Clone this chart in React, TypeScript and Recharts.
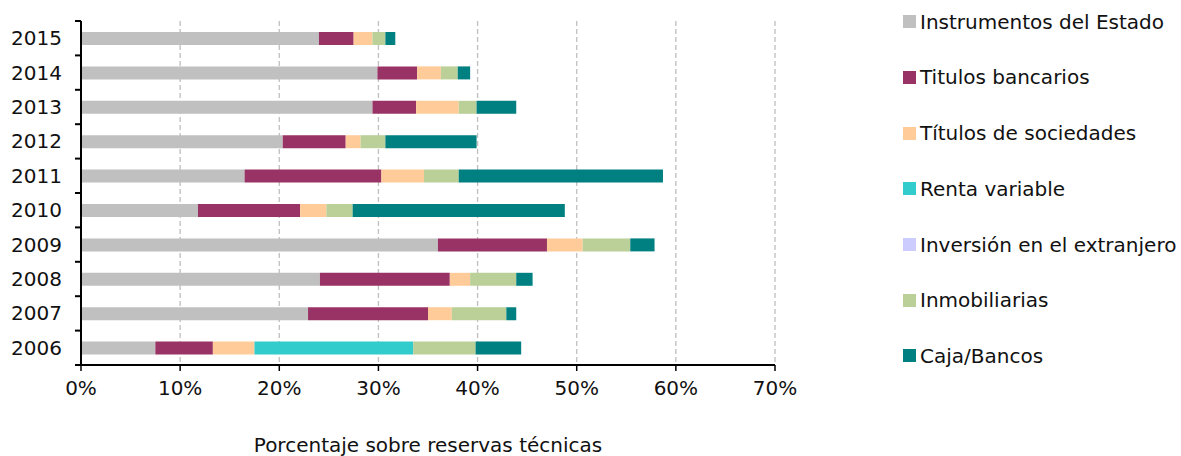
import React from 'react';
import { BarChart, Bar, XAxis, YAxis, CartesianGrid } from 'recharts';

const years = ['2006', '2007', '2008', '2009', '2010', '2011', '2012', '2013', '2014', '2015'];
const instrumentosEstado = [7.5, 22.9, 24.1, 36.0, 11.8, 16.5, 20.35, 29.4, 29.9, 24.0];
const titulosBancarios = [5.8, 12.1, 13.1, 11.0, 10.3, 13.8, 6.35, 4.4, 4.0, 3.5];
const titulosSociedades = [4.2, 2.4, 2.05, 3.6, 2.65, 4.3, 1.5, 4.3, 2.4, 1.9];
const rentaVariable = [16.0, 0, 0, 0, 0, 0, 0, 0, 0, 0];
const inversionExtranjero = [0, 0, 0, 0, 0, 0, 0, 0, 0, 0];
const inmobiliarias = [6.3, 5.5, 4.65, 4.8, 2.65, 3.5, 2.5, 1.8, 1.7, 1.3];
const cajaBancos = [4.6, 1.0, 1.65, 2.45, 21.4, 20.6, 9.2, 4.0, 1.25, 1.0];
const xTicks = [0, 10, 20, 30, 40, 50, 60, 70];

const seriesNames = [
  'Instrumentos del Estado',
  'Titulos bancarios',
  'Títulos de sociedades',
  'Renta variable',
  'Inversión en el extranjero',
  'Inmobiliarias',
  'Caja/Bancos',
];
const seriesValues = [
  instrumentosEstado,
  titulosBancarios,
  titulosSociedades,
  rentaVariable,
  inversionExtranjero,
  inmobiliarias,
  cajaBancos,
];
const seriesColors = ['#C0C0C0', '#993366', '#FFCC99', '#33CCCC', '#CCCCFF', '#BBCF99', '#008080'];

const data = years.map((year, i) => {
  const row: Record<string, string | number> = { year };
  seriesValues.forEach((vals, s) => {
    row['s' + s] = vals[i];
  });
  return row;
});

const FONT = '"DejaVu Sans", Verdana, sans-serif';
const TOP = 21;
const BOTTOM = 365;
const BAND = (BOTTOM - TOP) / years.length;
const TICK_SIZE = 6;
const TICK_MARGIN = 13;

const YTick = (props: any) => {
  const { x, y, payload, index } = props;
  const axisX = x + TICK_MARGIN + TICK_SIZE;
  return (
    <g>
      <line x1={axisX - TICK_SIZE} x2={axisX} y1={y - BAND / 2} y2={y - BAND / 2} stroke="#000" strokeWidth={2} />
      {index === 0 ? (
        <line x1={axisX - TICK_SIZE} x2={axisX} y1={y + BAND / 2} y2={y + BAND / 2} stroke="#000" strokeWidth={2} />
      ) : null}
      <text x={x} y={y} dy="0.35em" textAnchor="end" fill="#111" fontSize={20} fontFamily={FONT}>
        {payload.value}
      </text>
    </g>
  );
};

export default function App() {
  return (
    <div style={{ position: 'absolute', left: 0, top: 0, width: 1181, height: 456, background: '#fff' }}>
      <BarChart
        width={1181}
        height={456}
        data={data}
        layout="vertical"
        barSize={13}
        margin={{ top: TOP, right: 1181 - 775, bottom: 0, left: 0 }}
      >
        <CartesianGrid horizontal={false} vertical={true} stroke="#BFBFBF" strokeDasharray="5 3" strokeWidth={1.3} />
        <XAxis
          type="number"
          domain={[0, 70]}
          ticks={xTicks}
          tickFormatter={(v: number) => v + '%'}
          height={456 - BOTTOM}
          tickSize={6}
          tickMargin={10}
          axisLine={{ stroke: '#000', strokeWidth: 2 }}
          tickLine={{ stroke: '#000', strokeWidth: 1.5 }}
          tick={{ fill: '#111', fontSize: 20, fontFamily: FONT }}
          interval={0}
          label={{
            value: 'Porcentaje sobre reservas técnicas',
            position: 'insideBottom',
            offset: 4,
            fill: '#111',
            fontSize: 20,
            fontFamily: FONT,
          }}
        />
        <YAxis
          type="category"
          dataKey="year"
          reversed
          width={81}
          tickSize={TICK_SIZE}
          tickMargin={TICK_MARGIN}
          tickLine={false}
          axisLine={{ stroke: '#000', strokeWidth: 2 }}
          tick={<YTick />}
          interval={0}
        />
        {seriesNames.map((name, s) => (
          <Bar
            key={name}
            dataKey={'s' + s}
            name={name}
            stackId="a"
            fill={seriesColors[s]}
            isAnimationActive={false}
          />
        ))}
      </BarChart>
      <div style={{ position: 'absolute', left: 0, top: 0 }}>
        {seriesNames.map((name, s) => (
          <div
            key={name}
            style={{
              position: 'absolute',
              left: 903,
              top: 21.7 + s * 55.7 - 12,
              height: 24,
              display: 'flex',
              alignItems: 'center',
              whiteSpace: 'nowrap',
              fontFamily: FONT,
              fontSize: 20,
              color: '#111',
            }}
          >
            <span style={{ display: 'inline-block', width: 13, height: 13, background: seriesColors[s], marginRight: 4 }} />
            <span>{name}</span>
          </div>
        ))}
      </div>
    </div>
  );
}
